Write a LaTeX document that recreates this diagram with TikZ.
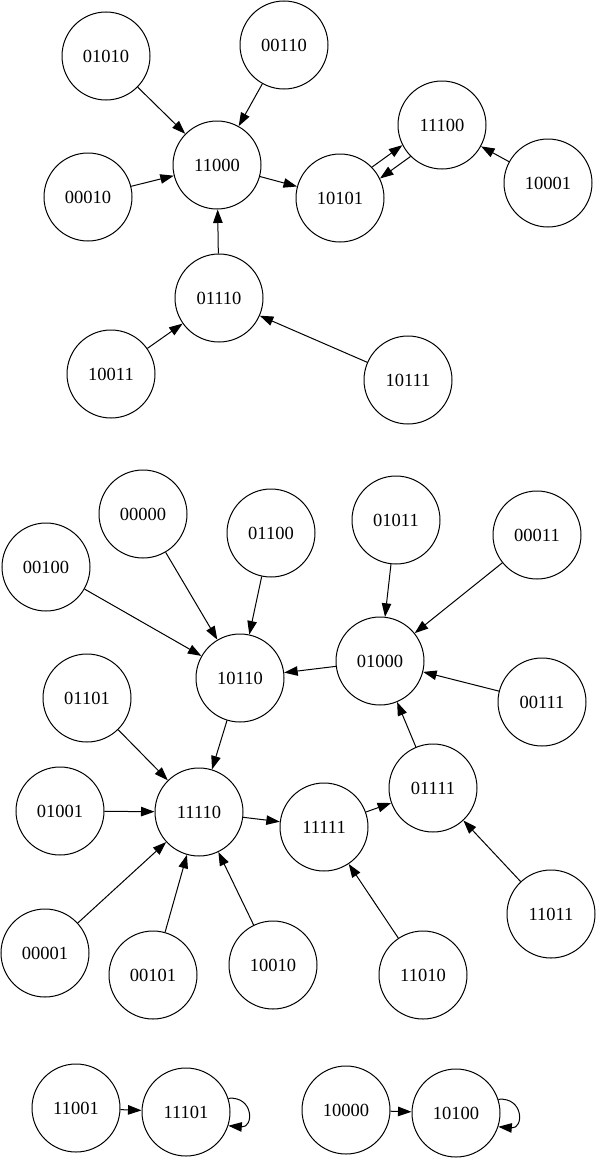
\documentclass[tikz,border=0pt]{standalone}
\usepackage{fontspec}
\setmainfont{Liberation Serif}
\usetikzlibrary{arrows.meta}
\begin{document}
\begin{tikzpicture}[x=1pt,y=1pt,
  st/.style={circle,draw,line width=1pt,minimum size=88pt,inner sep=0pt,font=\fontsize{18.5}{18.5}\selectfont},
  edge/.style={line width=1pt,-{Triangle[length=13.5pt,width=9.5pt]}}]
\useasboundingbox (0,0) rectangle (595,-1159);
% top cluster
\node[st] (a01010) at (106,-56) {01010};
\node[st] (a00110) at (284,-45) {00110};
\node[st] (a11000) at (217,-165) {11000};
\node[st] (a00010) at (88,-197) {00010};
\node[st] (a10101) at (340,-198) {10101};
\node[st] (a11100) at (442,-125) {11100};
\node[st] (a10001) at (548,-183) {10001};
\node[st] (a01110) at (219,-298) {01110};
\node[st] (a10011) at (111,-374) {10011};
\node[st] (a10111) at (408,-380) {10111};
% middle cluster
\node[st] (a00000) at (143,-514) {00000};
\node[st] (a01100) at (271,-533) {01100};
\node[st] (a01011) at (396,-520) {01011};
\node[st] (a00011) at (537,-535) {00011};
\node[st] (a00100) at (46,-567) {00100};
\node[st] (a10110) at (240,-678) {10110};
\node[st] (a01000) at (380,-661) {01000};
\node[st] (a01101) at (87,-698) {01101};
\node[st] (a00111) at (542,-702) {00111};
\node[st] (a01001) at (60,-811) {01001};
\node[st] (a11110) at (199,-812) {11110};
\node[st] (a11111) at (324,-827) {11111};
\node[st] (a01111) at (433,-788) {01111};
\node[st] (a11011) at (551,-914) {11011};
\node[st] (a00001) at (45,-953) {00001};
\node[st] (a00101) at (153,-975) {00101};
\node[st] (a10010) at (273,-965) {10010};
\node[st] (a11010) at (423,-975) {11010};
% bottom
\node[st] (a11001) at (76,-1108) {11001};
\node[st] (a11101) at (186,-1112) {11101};
\node[st] (a10000) at (346,-1110) {10000};
\node[st] (a10100) at (456,-1113) {10100};
% edges top
\draw[edge] (a01010) -- (a11000);
\draw[edge] (a00110) -- (a11000);
\draw[edge] (a00010) -- (a11000);
\draw[edge] (a01110) -- (a11000);
\draw[edge] (a11000) -- (a10101);
\draw[edge] (a10101.44) -- (a11100.207);
\draw[edge] (a11100.225) -- (a10101.26);
\draw[edge] (a10001) -- (a11100);
\draw[edge] (a10011) -- (a01110);
\draw[edge] (a10111) -- (a01110);
% edges middle
\draw[edge] (a00000) -- (a10110);
\draw[edge] (a01100) -- (a10110);
\draw[edge] (a00100) -- (a10110);
\draw[edge] (a01000) -- (a10110);
\draw[edge] (a01011) -- (a01000);
\draw[edge] (a00011) -- (a01000);
\draw[edge] (a00111) -- (a01000);
\draw[edge] (a01111) -- (a01000);
\draw[edge] (a10110) -- (a11110);
\draw[edge] (a01101) -- (a11110);
\draw[edge] (a01001) -- (a11110);
\draw[edge] (a00001) -- (a11110);
\draw[edge] (a00101) -- (a11110);
\draw[edge] (a10010) -- (a11110);
\draw[edge] (a11110) -- (a11111);
\draw[edge] (a11111) -- (a01111);
\draw[edge] (a11011) -- (a01111);
\draw[edge] (a11010) -- (a11111);
% edges bottom
\draw[edge] (a11001) -- (a11101);
\draw[edge] (a11101.18) to[out=5,in=-5,looseness=2.4] (a11101.-18);
\draw[edge] (a10000) -- (a10100);
\draw[edge] (a10100.18) to[out=5,in=-5,looseness=2.4] (a10100.-18);
\end{tikzpicture}
\end{document}
